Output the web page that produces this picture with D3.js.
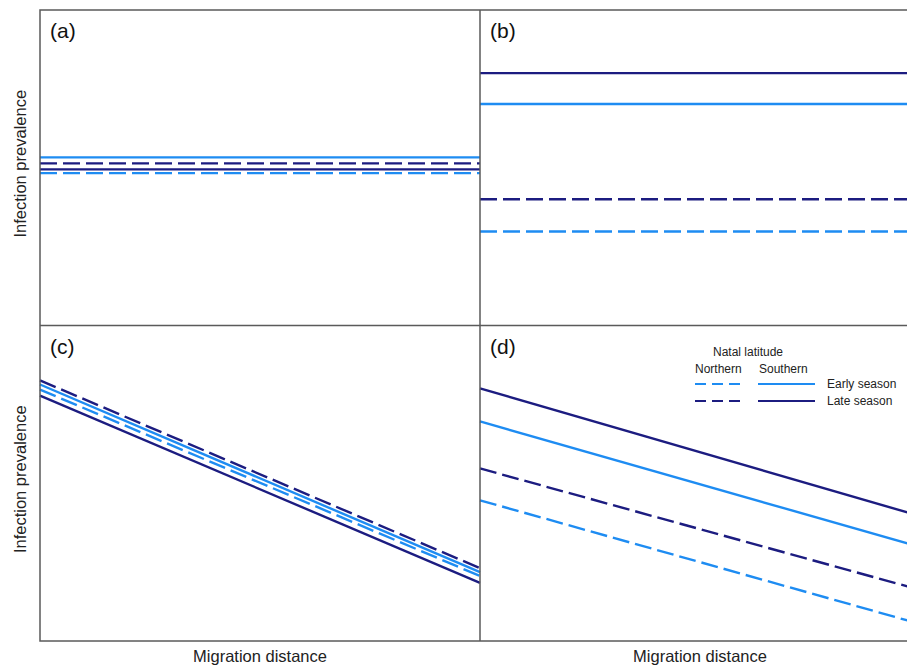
<!DOCTYPE html>
<html>
<head>
<meta charset="utf-8">
<script src="https://cdn.jsdelivr.net/npm/d3@7"></script>
<style>
  body { margin: 0; background: #fff; }
  svg { display: block; font-family: "Liberation Sans", Arial, sans-serif; }
</style>
</head>
<body>
<div id="chart"></div>
<script>
// series order: early-northern, early-southern, late-northern, late-southern
// values are prevalence at migration distance 0 and 1 (relative units)
const panelIds = ["(a)", "(b)", "(c)", "(d)"];
const seriesNames = ["Early northern", "Early southern", "Late northern", "Late southern"];
const seriesSeason = ["early", "early", "late", "late"];
const seriesLatitude = ["northern", "southern", "northern", "southern"];
const distances = [0, 1];
const panelA = [[48.3, 48.3], [53.3, 53.3], [51.4, 51.4], [49.5, 49.5]];
const panelB = [[29.8, 29.8], [70.2, 70.2], [40.0, 40.0], [80.0, 80.0]];
const panelC = [[79.7, 20.6], [81.3, 21.8], [82.6, 23.1], [77.8, 18.4]];
const panelD = [[44.6, 5.4], [69.6, 29.8], [54.7, 16.2], [80.1, 39.6]];
const panels = [panelA, panelB, panelC, panelD];

const W = 907, H = 666;
const mLeft = 40, mTop = 10, pw = 440, ph = 315.5;
const colors = { early: "#1e8cf2", late: "#1c1c80" };

const svg = d3.select("#chart").append("svg").attr("width", W).attr("height", H);

const x = d3.scaleLinear().domain([0, 1]).range([0, pw]);
const y = d3.scaleLinear().domain([0, 100]).range([ph, 0]);
const line = d3.line().x((d, i) => x(distances[i])).y(d => y(d));

panels.forEach((data, p) => {
  const col = p % 2, row = Math.floor(p / 2);
  const g = svg.append("g").attr("transform", `translate(${mLeft + col * pw},${mTop + row * ph})`);

  g.selectAll("path.series").data(data).join("path")
    .attr("class", "series")
    .attr("d", d => line(d))
    .attr("fill", "none")
    .attr("stroke", (d, i) => colors[seriesSeason[i]])
    .attr("stroke-width", 2.4)
    .attr("stroke-dasharray", (d, i) => seriesLatitude[i] === "northern" ? "17 6" : null);

  g.append("text").attr("x", 10).attr("y", 28)
    .attr("font-size", 21).attr("fill", "#111").text(panelIds[p]);
});

// frame
const frame = svg.append("g").attr("stroke", "#5a5a5a").attr("stroke-width", 1.5).attr("fill", "none");
frame.append("rect").attr("x", mLeft).attr("y", mTop).attr("width", 2 * pw).attr("height", 2 * ph);
frame.append("line").attr("x1", mLeft + pw).attr("x2", mLeft + pw).attr("y1", mTop).attr("y2", mTop + 2 * ph);
frame.append("line").attr("x1", mLeft).attr("x2", mLeft + 2 * pw).attr("y1", mTop + ph).attr("y2", mTop + ph);

// axis titles
[0, 1].forEach(r => {
  svg.append("text")
    .attr("transform", `translate(26,${mTop + r * ph + ph / 2 - 4}) rotate(-90)`)
    .attr("text-anchor", "middle").attr("font-size", 16.5).attr("fill", "#222")
    .text("Infection prevalence");
});
[0, 1].forEach(c => {
  svg.append("text")
    .attr("x", mLeft + c * pw + pw / 2).attr("y", 662)
    .attr("text-anchor", "middle").attr("font-size", 16.5).attr("fill", "#222")
    .text("Migration distance");
});

// legend
const lg = svg.append("g").attr("transform", "translate(695,352)").attr("fill", "#222").attr("font-size", 12);
lg.append("text").attr("x", 53).attr("y", 4).attr("text-anchor", "middle").text("Natal latitude");
lg.append("text").attr("x", 0).attr("y", 21).text("Northern");
lg.append("text").attr("x", 64).attr("y", 21).text("Southern");
["early", "late"].forEach((s, i) => {
  const yy = 32 + i * 17;
  lg.append("line").attr("x1", 0).attr("x2", 50).attr("y1", yy).attr("y2", yy)
    .attr("stroke", colors[s]).attr("stroke-width", 2.2).attr("stroke-dasharray", "11 6");
  lg.append("line").attr("x1", 63).attr("x2", 120).attr("y1", yy).attr("y2", yy)
    .attr("stroke", colors[s]).attr("stroke-width", 2.2);
  lg.append("text").attr("x", 132).attr("y", yy + 4).text(s === "early" ? "Early season" : "Late season");
});
</script>
</body>
</html>
